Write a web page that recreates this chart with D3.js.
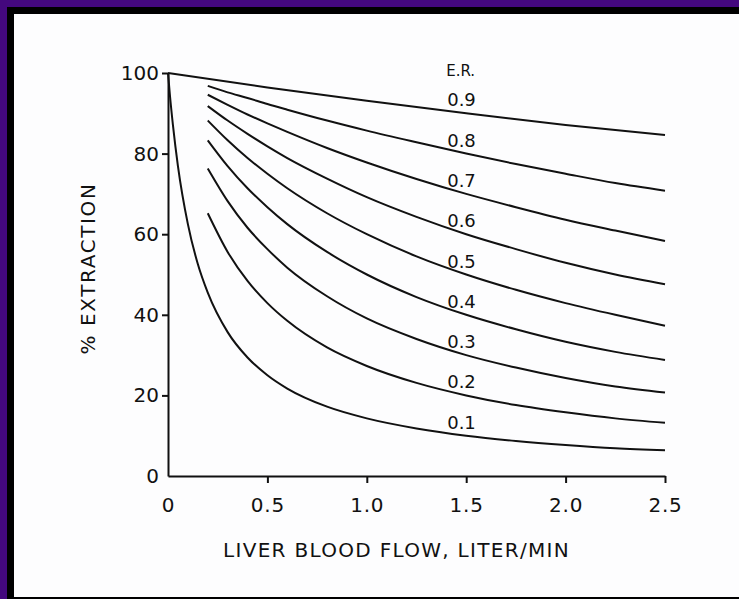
<!DOCTYPE html>
<html>
<head>
<meta charset="utf-8">
<script src="https://cdn.jsdelivr.net/npm/d3@7"></script>
<style>
  html, body { margin: 0; padding: 0; background: #ffffff; }
  svg { display: block; }
  text { font-family: "DejaVu Sans", sans-serif; fill: #111; }
</style>
</head>
<body>
<svg id="chart" width="739" height="599"></svg>
<script>
// ---- data ----
const erLabels = ["0.1", "0.2", "0.3", "0.4", "0.5", "0.6", "0.7", "0.8", "0.9"];
const xFlow = [0.2, 0.3, 0.4, 0.5, 0.6, 0.8, 1.0, 1.25, 1.5, 1.75, 2.0, 2.25, 2.5];
const xFlowLow = [0, 0.01, 0.025, 0.05, 0.1, 0.15, 0.2, 0.3, 0.4, 0.5, 0.6, 0.8, 1.0, 1.25, 1.5, 1.75, 2.0, 2.25, 2.5];
const xFlowHigh = [0, 0.5, 1.0, 1.5, 2.0, 2.5];
const er01 = [100, 94.3, 87.0, 76.9, 62.5, 52.6, 45.5, 35.7, 29.4, 25.0, 21.7, 17.2, 14.3, 11.8, 10.0, 8.7, 7.7, 6.9, 6.4];
const er02 = [65.2, 55.6, 48.4, 42.9, 38.5, 31.9, 27.3, 23.1, 20.0, 17.6, 15.8, 14.3, 13.2];
const er03 = [76.3, 68.2, 61.6, 56.3, 51.7, 44.6, 39.1, 34.0, 30.0, 26.9, 24.3, 22.2, 20.7];
const er04 = [83.3, 76.9, 71.4, 66.7, 62.5, 55.6, 50.0, 44.4, 40.0, 36.4, 33.3, 30.8, 28.8];
const er05 = [88.2, 83.3, 78.9, 75.0, 71.4, 65.2, 60.0, 54.5, 50.0, 46.2, 42.9, 40.0, 37.3];
const er06 = [91.8, 88.2, 84.9, 81.8, 78.9, 73.8, 69.2, 64.3, 60.0, 56.3, 52.9, 50.0, 47.6];
const er07 = [94.6, 92.1, 89.7, 87.5, 85.4, 81.4, 77.8, 73.7, 70.0, 66.7, 63.6, 60.9, 58.3];
const er08 = [96.8, 95.2, 93.8, 92.3, 90.9, 88.2, 85.7, 82.8, 80.0, 77.4, 75.0, 72.7, 70.8];
const er09 = [100, 96.4, 93.1, 90.0, 87.1, 84.6];
const xTicks = [0, 0.5, 1.0, 1.5, 2.0, 2.5];
const xTickLabels = ["0", "0.5", "1.0", "1.5", "2.0", "2.5"];
const yTicks = [0, 20, 40, 60, 80, 100];
const xTitle = "LIVER BLOOD FLOW,  LITER/MIN";
const yTitle = "% EXTRACTION";
const legendTitle = "E.R.";
const labelX = 1.5;

// ---- build series ----
const series = [
  { label: erLabels[0], xs: xFlowLow, ys: er01 },
  { label: erLabels[1], xs: xFlow, ys: er02 },
  { label: erLabels[2], xs: xFlow, ys: er03 },
  { label: erLabels[3], xs: xFlow, ys: er04 },
  { label: erLabels[4], xs: xFlow, ys: er05 },
  { label: erLabels[5], xs: xFlow, ys: er06 },
  { label: erLabels[6], xs: xFlow, ys: er07 },
  { label: erLabels[7], xs: xFlow, ys: er08 },
  { label: erLabels[8], xs: xFlowHigh, ys: er09 }
].map(s => ({ label: s.label, pts: s.xs.map((x, i) => [x, s.ys[i]]) }));

const svg = d3.select("#chart");
const W = 739, H = 599;

// frame (scanned slide border)
svg.append("rect").attr("x", 0).attr("y", 0).attr("width", W).attr("height", H).attr("fill", "#44087e");
svg.append("rect").attr("x", 7).attr("y", 7).attr("width", W - 7).attr("height", H - 7).attr("fill", "#000");
svg.append("rect").attr("x", 14).attr("y", 14).attr("width", W - 14).attr("height", H - 16).attr("fill", "#fdfdfe");

const x = d3.scaleLinear().domain([0, 2.5]).range([168, 665]);
const y = d3.scaleLinear().domain([0, 100]).range([476, 73]);

// axes
const xAxis = d3.axisBottom(x).tickValues(xTicks).tickFormat((d, i) => xTickLabels[i]).tickSize(7).tickSizeOuter(0);
const gx = svg.append("g").attr("transform", `translate(0,${y(0)})`).call(xAxis);
gx.select(".domain").attr("stroke", "#111").attr("stroke-width", 2);
gx.selectAll(".tick line").attr("stroke", "#111").attr("stroke-width", 2);
gx.selectAll(".tick text").attr("font-size", 20).attr("dy", "1.3em").attr("fill", "#111").attr("letter-spacing", 0.8);
gx.selectAll(".tick").filter(d => d === 0).select("line").remove();

const yAxis = d3.axisLeft(y).tickValues(yTicks).tickSize(6).tickSizeOuter(0);
const gy = svg.append("g").attr("transform", `translate(${x(0)},0)`).call(yAxis);
gy.select(".domain").attr("stroke", "#111").attr("stroke-width", 2);
gy.selectAll(".tick line").attr("stroke", "#111").attr("stroke-width", 2);
gy.selectAll(".tick text").attr("font-size", 20).attr("fill", "#111").attr("x", -9);
gy.selectAll(".tick").filter(d => d === 0).select("line").remove();

// curves
const line = d3.line().x(d => x(d[0])).y(d => y(d[1])).curve(d3.curveMonotoneX);
svg.append("g").selectAll("path").data(series).join("path")
  .attr("d", d => line(d.pts))
  .attr("fill", "none").attr("stroke", "#111").attr("stroke-width", 2);

// curve labels
function valueAt(pts, xv) {
  for (let i = 1; i < pts.length; i++) {
    if (pts[i][0] >= xv) {
      const t = (xv - pts[i - 1][0]) / (pts[i][0] - pts[i - 1][0]);
      return pts[i - 1][1] + t * (pts[i][1] - pts[i - 1][1]);
    }
  }
  return pts[pts.length - 1][1];
}
svg.append("g").selectAll("text").data(series).join("text")
  .attr("x", x(labelX) - 19)
  .attr("y", d => y(valueAt(d.pts, labelX)) - 7)
  .attr("font-size", 18)
  .text(d => d.label);

svg.append("text").attr("x", x(labelX) - 20).attr("y", 76).attr("font-size", 15).text(legendTitle);

// axis titles
svg.append("text").attr("x", (x(0) + x(2.5)) / 2 - 20).attr("y", 557)
  .attr("text-anchor", "middle").attr("font-size", 20).attr("letter-spacing", 1.3).text(xTitle);
svg.append("text").attr("transform", `translate(95,${(y(0) + y(100)) / 2 - 6}) rotate(-90)`)
  .attr("text-anchor", "middle").attr("font-size", 20).attr("letter-spacing", 1.6).text(yTitle);
</script>
</body>
</html>
